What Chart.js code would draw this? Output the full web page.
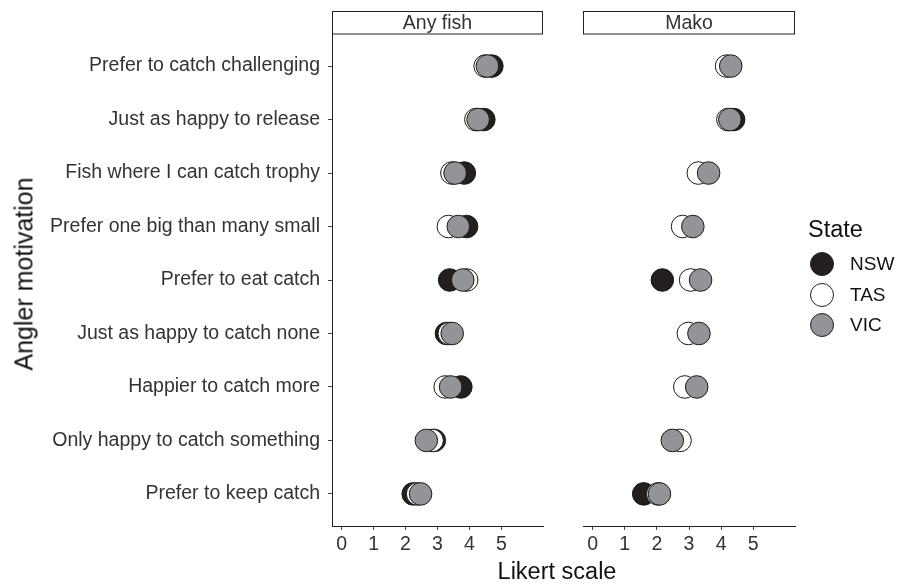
<!DOCTYPE html>
<html>
<head>
<meta charset="utf-8">
<script src="https://cdn.jsdelivr.net/npm/chart.js@4/dist/chart.umd.min.js"></script>
<style>
    body {
        margin : 0;
        background : #FFFFFF;
        font-family : "Liberation Sans", Arial, sans-serif;
    }

    .page {
        position : relative;
        width : 909px;
        height : 584px;
        overflow : hidden;
    }

    .panel {
        position : absolute;
        top : 0;
        height : 584px;
    }

    .y-title {
        position : absolute;
        left : 24px;
        top : 274px;
        transform : translate(-50%, -50%) rotate(-90deg);
        font-size : 25px;
        color : #111;
        white-space : nowrap;
    }

    .x-title {
        position : absolute;
        left : 557px;
        top : 571px;
        transform : translate(-50%, -50%);
        font-size : 23.5px;
        color : #111;
        white-space : nowrap;
    }

    .legend {
        position : absolute;
        left : 808px;
        top : 216px;
        color : #111;
    }

    .legend-title {
        font-size : 23.5px;
        margin-bottom : 6px;
    }

    .legend-row {
        display : flex;
        align-items : center;
        height : 30.5px;
        font-size : 19px;
    }

    .legend-key {
        width : 22px;
        height : 22px;
        border : 1px solid #222;
        border-radius : 50%;
        margin-left : 2px;
        margin-right : 16px;
    }
</style>
</head>
<body>
<div class="page">
    <div class="panel" style="left:0px;width:560px;"><canvas id="anyFish"></canvas></div>
    <div class="panel" style="left:560px;width:260px;"><canvas id="mako"></canvas></div>
    <div class="y-title">Angler motivation</div>
    <div class="x-title">Likert scale</div>
    <div class="legend" id="legend">
        <div class="legend-title">State</div>
    </div>
</div>

<script>
var motivations = [
    "Prefer to catch challenging",
    "Just as happy to release",
    "Fish where I can catch trophy",
    "Prefer one big than many small",
    "Prefer to eat catch",
    "Just as happy to catch none",
    "Happier to catch more",
    "Only happy to catch something",
    "Prefer to keep catch"
];

var states = ["NSW", "TAS", "VIC"];
var panels = ["Any fish", "Mako"];
var xTicks = [0, 1, 2, 3, 4, 5];

// mean Likert score per motivation
var anyFishNSW = [4.70, 4.45, 3.84, 3.91, 3.38, 3.28, 3.73, 2.90, 2.24];
var anyFishTAS = [4.49, 4.20, 3.45, 3.34, 3.91, 3.37, 3.24, 2.83, 2.38];
var anyFishVIC = [4.56, 4.27, 3.55, 3.65, 3.79, 3.46, 3.41, 2.65, 2.47];

var makoNSW = [null, 4.39, null, null, 2.17, null, null, null, 1.59];
var makoTAS = [4.17, 4.21, 3.29, 2.80, 3.05, 2.98, 2.87, 2.72, 2.03];
var makoVIC = [4.30, 4.27, 3.61, 3.12, 3.36, 3.31, 3.24, 2.48, 2.08];

var STATE_COLORS = {
    NSW: "#231f20",
    TAS: "#ffffff",
    VIC: "#929497"
};

var TEXT_FONT = { family: "'Liberation Sans', Arial, sans-serif", size: 19.5 };

var stripPlugin = {
    id: "strip",
    afterDraw: function (chart, args, opts) {
        var ctx = chart.ctx;
        var a = chart.chartArea;
        var top = 11.5;
        ctx.save();
        ctx.fillStyle = "#ffffff";
        ctx.fillRect(a.left, top, a.right - a.left, a.top - top);
        ctx.strokeStyle = "#222";
        ctx.lineWidth = 1;
        ctx.strokeRect(a.left + 0.5, top, a.right - a.left - 1, a.top - top);
        ctx.fillStyle = "#333";
        ctx.font = "19.5px 'Liberation Sans', Arial, sans-serif";
        ctx.textAlign = "center";
        ctx.textBaseline = "middle";
        ctx.fillText(opts.text, (a.left + a.right) / 2, (top + a.top) / 2 + 1);
        ctx.restore();
    }
};

function toPoints(values) {
    var points = [];
    values.forEach(function (v, i) {
        if (v !== null) points.push({ x: v, y: i });
    });
    return points;
}

function makeDatasets(nsw, tas, vic) {
    var series = [nsw, tas, vic];
    return states.map(function (s, i) {
        return {
            label: s,
            data: toPoints(series[i]),
            backgroundColor: STATE_COLORS[s],
            borderColor: "#1a1a1a",
            borderWidth: 1,
            pointRadius: 11.3,
            pointHoverRadius: 11.3,
            order: 3 - i // VIC on top, like the plot
        };
    });
}

function makeChart(canvasId, title, datasets, showY, padding) {
    return new Chart(document.getElementById(canvasId), {
        type: "scatter",
        data: { datasets: datasets },
        plugins: [stripPlugin],
        options: {
            responsive: true,
            maintainAspectRatio: false,
            animation: false,
            layout: { padding: padding },
            plugins: {
                legend: { display: false },
                tooltip: { enabled: false },
                strip: { text: title }
            },
            scales: {
                x: {
                    type: "linear",
                    min: -0.3,
                    max: 6.3,
                    afterBuildTicks: function (s) {
                        s.ticks = xTicks.map(function (v) { return { value: v }; });
                    },
                    afterFit: function (s) { s.height = 58; },
                    grid: { drawOnChartArea: false, drawTicks: true, tickLength: 4, color: "#444" },
                    border: { display: true, color: "#222", width: 1 },
                    ticks: { color: "#333", font: TEXT_FONT, padding: 3, maxRotation: 0 }
                },
                y: {
                    type: "linear",
                    display: showY,
                    reverse: true,
                    min: -0.6,
                    max: motivations.length - 0.4,
                    afterBuildTicks: function (s) {
                        s.ticks = motivations.map(function (m, i) { return { value: i }; });
                    },
                    afterFit: function (s) { if (showY) s.width = 332; },
                    grid: { drawOnChartArea: false, drawTicks: true, tickLength: 4, color: "#444" },
                    border: { display: true, color: "#222", width: 1 },
                    ticks: {
                        color: "#333",
                        font: TEXT_FONT,
                        padding: 8,
                        autoSkip: false,
                        callback: function (v) { return motivations[v]; }
                    }
                }
            }
        }
    });
}

makeChart("anyFish", panels[0], makeDatasets(anyFishNSW, anyFishTAS, anyFishVIC), true,
    { top: 34, right: 17, left: 0, bottom: 0 });
makeChart("mako", panels[1], makeDatasets(makoNSW, makoTAS, makoVIC), false,
    { top: 34, right: 25, left: 23, bottom: 0 });

// legend keys
var legend = document.getElementById("legend");
states.forEach(function (s) {
    var row = document.createElement("div");
    row.className = "legend-row";
    var key = document.createElement("div");
    key.className = "legend-key";
    key.style.background = STATE_COLORS[s];
    var label = document.createElement("span");
    label.textContent = s;
    row.appendChild(key);
    row.appendChild(label);
    legend.appendChild(row);
});
</script>
</body>
</html>
